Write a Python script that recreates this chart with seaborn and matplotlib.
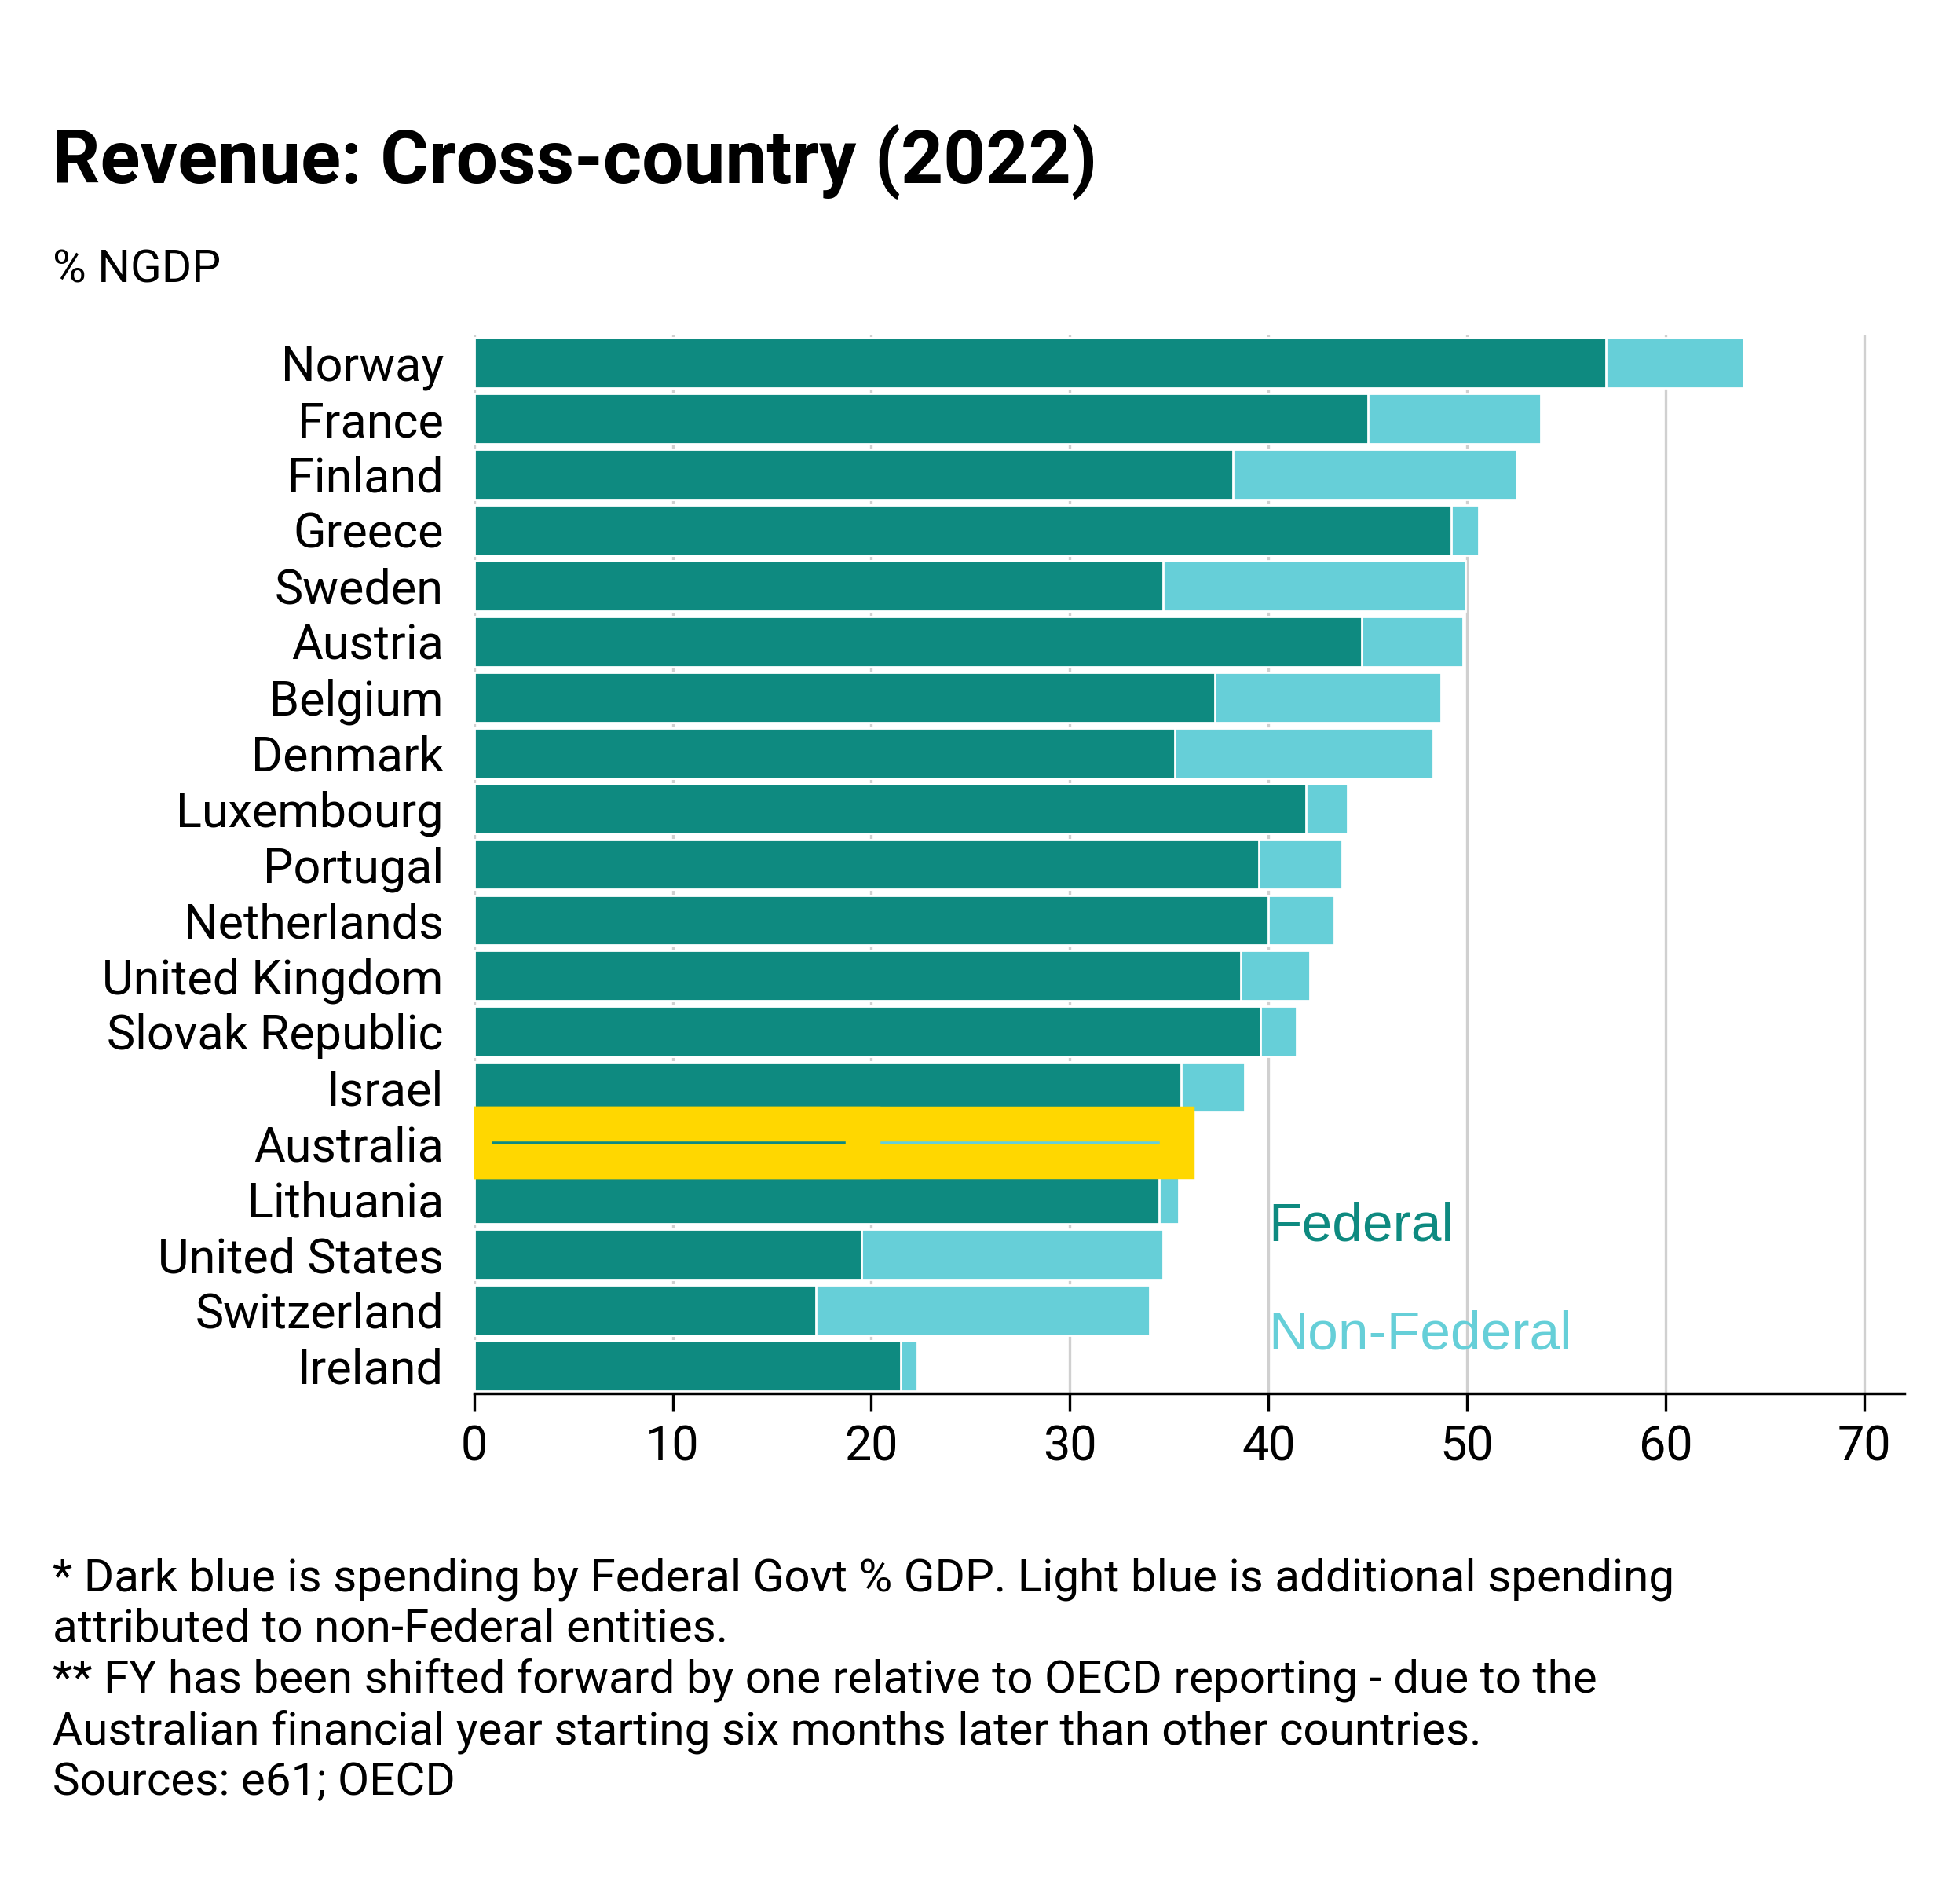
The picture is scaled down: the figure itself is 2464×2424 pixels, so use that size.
import matplotlib
matplotlib.use("Agg")
import matplotlib.pyplot as plt
import numpy as np
import pandas as pd
import seaborn as sns

countries = ["Norway", "France", "Finland", "Greece", "Sweden", "Austria", "Belgium",
             "Denmark", "Luxembourg", "Portugal", "Netherlands", "United Kingdom",
             "Slovak Republic", "Israel", "Australia", "Lithuania", "United States",
             "Switzerland", "Ireland"]
federal = [57.0, 45.0, 38.2, 49.2, 34.7, 44.7, 37.3, 35.3, 41.9, 39.5, 40.0, 38.6,
           39.6, 35.6, 19.6, 34.5, 19.5, 17.2, 21.5]
total = [63.9, 53.7, 52.5, 50.6, 49.9, 49.8, 48.7, 48.3, 44.0, 43.7, 43.3, 42.1,
         41.4, 38.8, 35.4, 35.5, 34.7, 34.0, 22.3]

DARK = "#0e8a80"
LIGHT = "#66cfd8"
GOLD = "#ffd700"

sns.set_theme(style="white")
plt.rcParams['font.family'] = ['Liberation Sans Narrow', 'Roboto', 'DejaVu Sans']
plt.rcParams['text.color'] = 'black'
plt.rcParams['xtick.color'] = 'black'
plt.rcParams['ytick.color'] = 'black'

df = pd.DataFrame({"country": countries, "federal": federal, "total": total})

fig = plt.figure(figsize=(12.32, 12.12), dpi=200)
ax = fig.add_axes([0.245, 0.268, 0.739, 0.556])

sns.barplot(data=df, y="country", x="total", color=LIGHT, width=0.9, ax=ax, saturation=1)
sns.barplot(data=df, y="country", x="federal", color=DARK, width=0.9, ax=ax, saturation=1)

# highlight Australia with a thick gold outline
i = countries.index("Australia")
for p in ax.patches:
    y0 = p.get_y() + p.get_height() / 2
    if abs(y0 - i) < 0.01:
        p.set_edgecolor(GOLD)
        p.set_linewidth(16)
        p.set_zorder(3)
        p.set_height(0.68)
        p.set_y(i - 0.34)

ax.set_xlim(0, 72)
ax.set_ylim(len(countries) - 0.5, -0.5)
ax.set_xticks(np.arange(0, 71, 10))
ax.xaxis.grid(True, color="#d0d0d0", linewidth=1.2)
ax.set_axisbelow(True)
ax.set_xlabel("")
ax.set_ylabel("")
for s in ["top", "right", "left"]:
    ax.spines[s].set_visible(False)
ax.spines["bottom"].set_color("black")
ax.tick_params(axis="x", bottom=True, length=8, width=1.2, labelsize=22, pad=6)
ax.tick_params(axis="y", left=False, labelsize=22, pad=8)

ax.text(40, 15.5, "Federal", color=DARK, fontsize=25, family="Liberation Sans", va="center")
ax.text(40, 17.45, "Non-Federal", color=LIGHT, fontsize=25, family="Liberation Sans", va="center")

fig.text(0.027, 0.915, "Revenue: Cross-country (2022)", fontsize=34, fontweight="bold", va="center")
fig.text(0.027, 0.858, "% NGDP", fontsize=21, va="center")
foot = ("* Dark blue is spending by Federal Govt % GDP. Light blue is additional spending\n"
        "attributed to non-Federal entities.\n"
        "** FY has been shifted forward by one relative to OECD reporting - due to the\n"
        "Australian financial year starting six months later than other countries.\n"
        "Sources: e61; OECD")
fig.text(0.027, 0.182, foot, fontsize=21, va="top", linespacing=1.2)

fig.savefig("out.png", dpi=200, facecolor="white")
